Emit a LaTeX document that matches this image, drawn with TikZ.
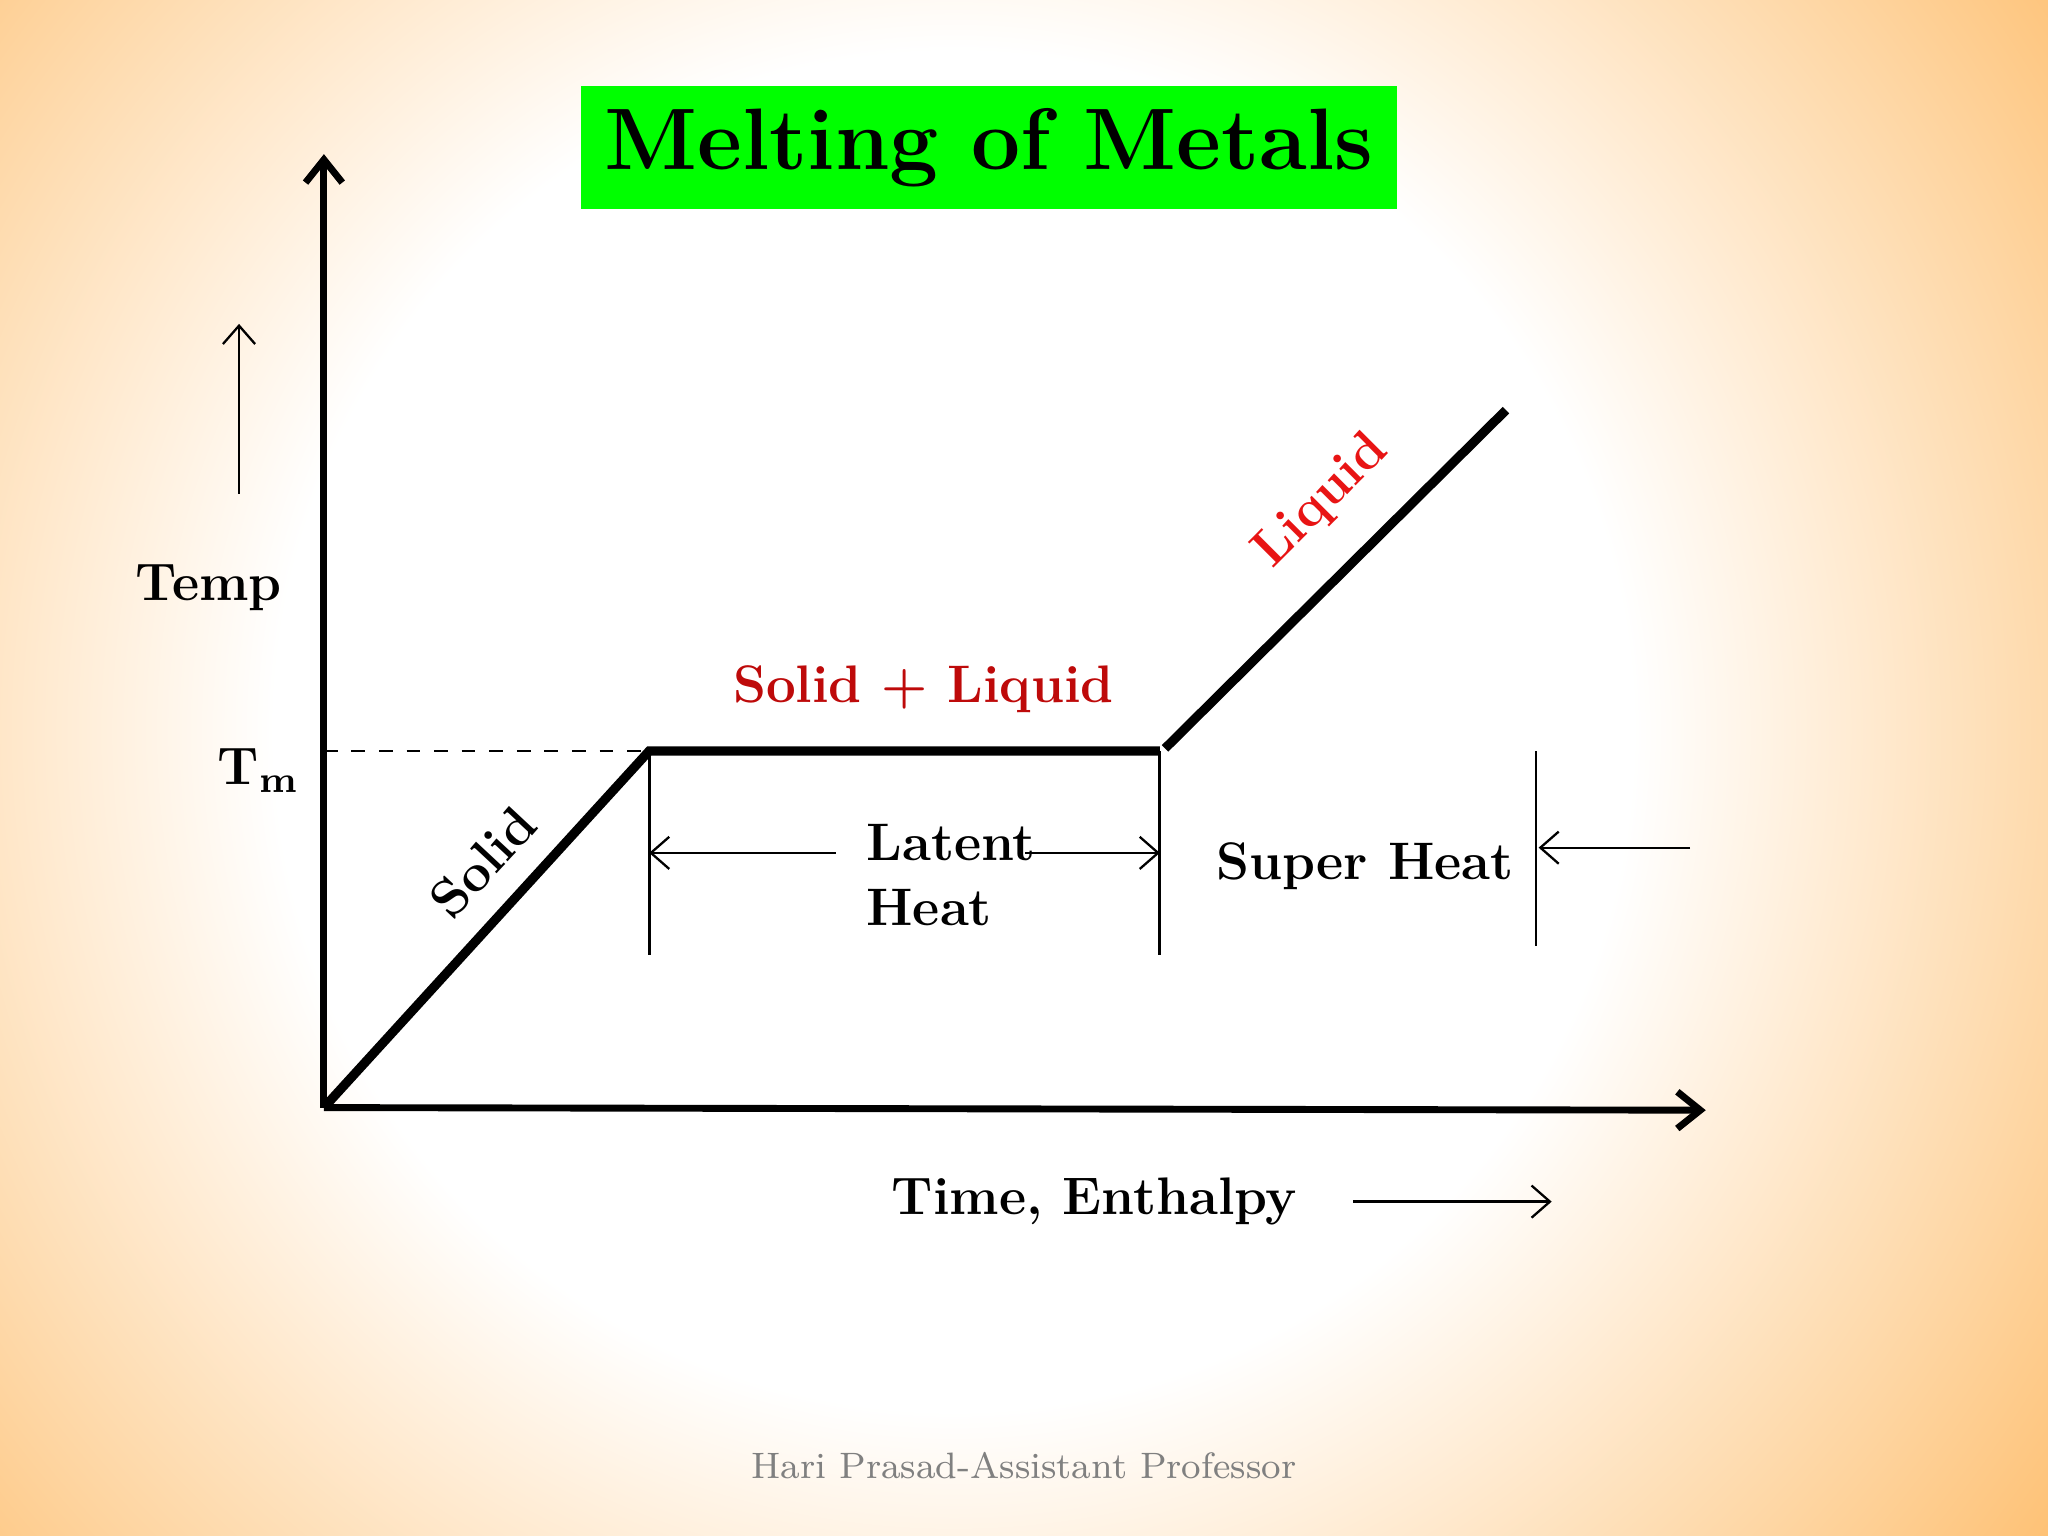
\documentclass[tikz,border=0pt]{standalone}
\usetikzlibrary{arrows.meta}
\definecolor{bgorange}{RGB}{253,150,20}
\definecolor{lred}{RGB}{232,20,20}
\definecolor{dred}{RGB}{190,10,10}
\definecolor{tgreen}{RGB}{0,255,0}
\pgfdeclareradialshading{glow}{\pgfpoint{0bp}{0bp}}{color(0bp)=(white); color(13bp)=(white); color(22bp)=(bgorange!40!white); color(35bp)=(bgorange); color(50bp)=(bgorange)}
\begin{document}
\begin{tikzpicture}[x=0.01cm,y=-0.01cm,
  lbl/.style={font=\fontsize{11.5}{14}\selectfont\bfseries},
  thin arrow/.style={-{Straight Barb[length=4pt,width=7pt]},line width=0.5pt},
  tickline/.style={line width=0.6pt},
  curve/.style={line width=2pt}]
\useasboundingbox (0,0) rectangle (1568,1176);
\shade[shading=glow] (-270,-440) rectangle (1730,1560);
% title
\node[fill=tgreen,minimum width=625*0.01cm,minimum height=94*0.01cm,inner sep=0pt,font=\fontsize{19}{23}\selectfont\bfseries] (title) at (757,113) {Melting of Metals};
% axes
\coordinate (O) at (248,848);
\coordinate (Ytop) at (248,118);
\coordinate (Xend) at (1306,850);
\draw[line width=1.5pt,-{Straight Barb[length=5pt,width=8pt]}] (O) -- (Ytop);
\draw[line width=1.5pt,-{Straight Barb[length=5pt,width=8pt]}] (O) -- (Xend);
% curve
\coordinate (A) at (497,575);
\coordinate (B) at (888,575);
\coordinate (C) at (892,573);
\coordinate (D) at (1153,314);
\coordinate (Tm0) at (248,575);
\draw[curve] (O) -- (A) -- (B);
\draw[curve] (C) -- (D);
\draw[dashed,line width=0.6pt] (Tm0) -- (A);
% labels
\node[lbl] (tm) at (198,590) {T\textsubscript{m}};
\node[lbl] (temp) at (160,450) {Temp};
\coordinate (ta1) at (183,378); \coordinate (ta2) at (183,248);
\draw[thin arrow] (ta1) -- (ta2);
\node[lbl,rotate=47] (solid) at (370,660) {Solid};
\node[lbl,rotate=45,text=lred] (liquid) at (1012,384) {Liquid};
\node[lbl,text=dred] (sl) at (707,528) {Solid + Liquid};
% latent heat
\coordinate (v1a) at (497,575); \coordinate (v1b) at (497,731);
\coordinate (v2a) at (888,575); \coordinate (v2b) at (888,731);
\draw[tickline] (v1a) -- (v1b);
\draw[tickline] (v2a) -- (v2b);
\node[lbl,align=left,anchor=west] (lh) at (651,670) {Latent\\Heat};
\coordinate (l1) at (640,653); \coordinate (l2) at (497,653);
\coordinate (l3) at (785,653); \coordinate (l4) at (888,653);
\draw[thin arrow] (l1) -- (l2);
\draw[thin arrow] (l3) -- (l4);
% super heat
\node[lbl] (sh) at (1045,663) {Super Heat};
\coordinate (s1) at (1176,575); \coordinate (s2) at (1176,724);
\draw[tickline] (s1) -- (s2);
\coordinate (s3) at (1294,649); \coordinate (s4) at (1178,649);
\draw[thin arrow] (s3) -- (s4);
% x label
\node[lbl] (te) at (838,920) {Time, Enthalpy};
\coordinate (x1) at (1036,920); \coordinate (x2) at (1188,920);
\draw[thin arrow] (x1) -- (x2);
% footer
\node[text=gray,font=\fontsize{8}{10}\selectfont] (foot) at (784,1122) {Hari Prasad-Assistant Professor};
\end{tikzpicture}
\end{document}
